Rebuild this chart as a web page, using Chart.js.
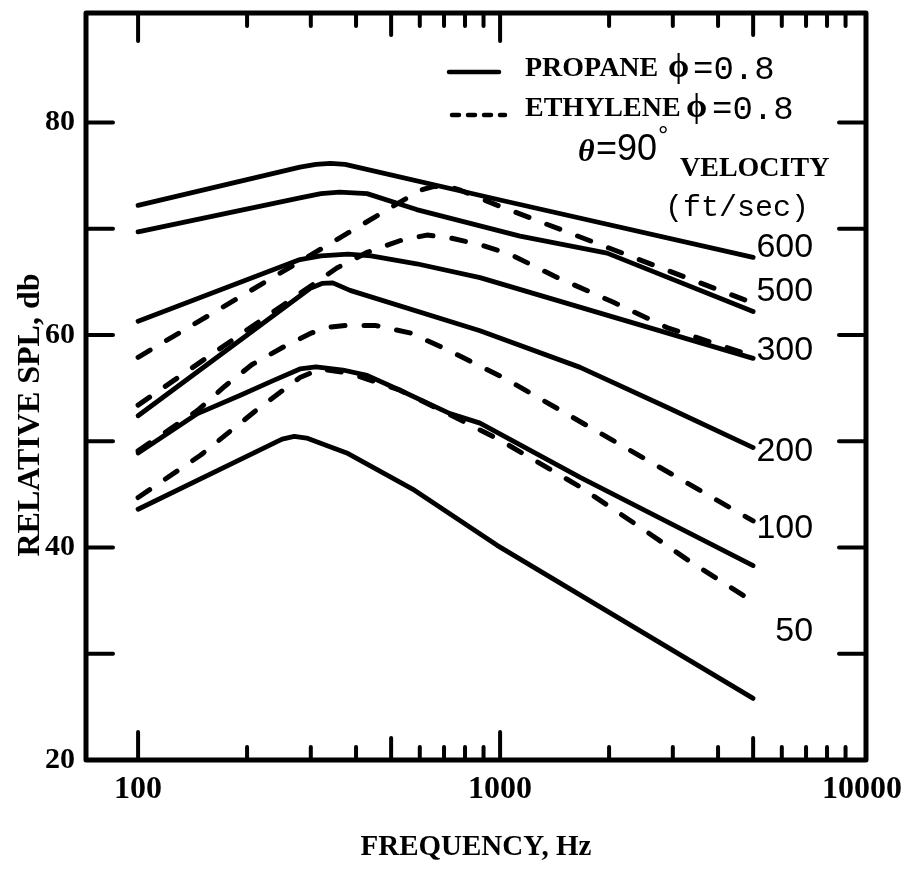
<!DOCTYPE html>
<html>
<head>
<meta charset="utf-8">
<title>Relative SPL vs frequency</title>
<script src="https://cdn.jsdelivr.net/npm/chart.js@4.4.1/dist/chart.umd.min.js"></script>
<style>
  html, body { margin: 0; padding: 0; background: #fff; }
  canvas { display: block; }
</style>
</head>
<body>
<canvas id="chart" width="922" height="871"></canvas>
<script>
/* ── Data: [frequency Hz, relative SPL dB] ───────────────────────────────── */

var xTickLabels = [100, 1000, 10000];
var yTickLabels = [20, 40, 60, 80];

// propane, phi = 0.8 (solid)
var propane600 = [[100, 72.2], [280, 75.8], [310, 76.05], [340, 76.15], [373, 76.05], [1000, 72.7], [5000, 67.3]];
var propane500 = [[100, 69.7], [280, 72.9], [320, 73.3], [360, 73.45], [429, 73.3], [588, 71.8], [1135, 69.3], [1975, 67.7], [5000, 62.2]];
var propane300 = [[100, 61.3], [280, 67.1], [320, 67.45], [380, 67.6], [440, 67.45], [588, 66.7], [880, 65.4], [5000, 57.8]];
var propane200 = [[100, 52.4], [299, 64.4], [322, 64.85], [345, 64.9], [385, 64.2], [880, 60.4], [1664, 56.95], [2890, 53.2], [5000, 49.4]];
var propane100 = [[100, 48.9], [146, 52.6], [191, 54.3], [236, 55.7], [280, 56.8], [310, 57.0], [368, 56.7], [429, 56.2], [529, 54.8], [727, 52.6], [880, 51.7], [1664, 46.6], [5000, 38.3]];
var propane50  = [[100, 43.6], [250, 50.2], [270, 50.45], [292, 50.3], [377, 48.9], [573, 45.5], [981, 40.2], [5000, 25.8]];

// ethylene, phi = 0.8 (dashed)
var ethylene500 = [[100, 57.9], [600, 73.6], [650, 73.95], [720, 74.0], [780, 73.6], [1000, 72.1], [5000, 63.0]];
var ethylene300 = [[100, 53.4], [354, 66.3], [431, 67.8], [532, 68.9], [628, 69.4], [736, 69.1], [880, 68.5], [1065, 67.6], [1440, 65.4], [2050, 63.1], [2890, 60.7], [5000, 58.0]];
var ethylene100 = [[100, 49.1], [146, 52.9], [174, 55.2], [206, 57.2], [253, 58.9], [302, 60.2], [340, 60.75], [373, 60.9], [451, 60.9], [563, 60.2], [705, 58.7], [1032, 55.9], [5000, 42.5]];
var ethylene50  = [[100, 44.7], [149, 48.7], [210, 52.8], [280, 56.0], [318, 56.8], [385, 56.4], [529, 54.8], [727, 52.5], [1000, 50.1], [1664, 45.7], [2390, 42.1], [3340, 38.7], [5000, 34.9]];

// velocity labels at the right-hand ends (ft/sec) and the dB level they sit at
var velocityLabels  = ['600', '500', '300', '200', '100', '50'];
var velocityLabelDb = [68.2, 64.1, 58.5, 49.05, 41.8, 32.1];

/* ── Helpers ────────────────────────────────────────────────────────────── */

var SERIF = "'Liberation Serif', 'DejaVu Serif', serif";
var MONO  = "'Liberation Mono', 'DejaVu Sans Mono', monospace";
var SANS  = "'Liberation Sans', 'DejaVu Sans', sans-serif";

function toPoints(rows) {
  return rows.map(function (r) { return { x: r[0], y: r[1] }; });
}

function solid(label, rows) {
  return {
    label: label, data: toPoints(rows),
    borderColor: '#000', borderWidth: 4.8,
    borderCapStyle: 'round', borderJoinStyle: 'round',
    pointRadius: 0, tension: 0
  };
}

function dashed(label, rows) {
  var ds = solid(label, rows);
  ds.borderWidth = 5;
  ds.borderDash = [14, 19];
  return ds;
}

function seg(ctx, x1, y1, x2, y2) {
  ctx.beginPath(); ctx.moveTo(x1, y1); ctx.lineTo(x2, y2); ctx.stroke();
}

function txt(ctx, s, x, y, font, align) {
  ctx.font = font;
  ctx.textAlign = align || 'left';
  ctx.textBaseline = 'middle';
  ctx.fillText(s, x, y);
}

/* ── Frame, inward ticks and notes ──────────────────────────────────────── */

var frameAndNotes = {
  id: 'frameAndNotes',
  afterDraw: function (chart) {
    var ctx = chart.ctx, a = chart.chartArea;
    var xs = chart.scales.x, ys = chart.scales.y;
    ctx.save();
    ctx.strokeStyle = '#000';
    ctx.fillStyle = '#000';

    // log ticks top and bottom, pointing inward
    ctx.lineWidth = 4;
    ctx.lineCap = 'round';
    for (var d = 100; d <= 1000; d *= 10) {
      for (var m = 1; m <= 9; m++) {
        var px = xs.getPixelForValue(m * d);
        var len = m === 1 ? 28 : (m === 5 ? 22 : 13);
        seg(ctx, px, a.bottom, px, a.bottom - len);
        seg(ctx, px, a.top, px, a.top + len);
      }
    }
    // dB ticks left and right
    for (var v = 30; v <= 80; v += 10) {
      var py = ys.getPixelForValue(v);
      seg(ctx, a.left, py, a.left + 27, py);
      seg(ctx, a.right, py, a.right - 27, py);
    }

    // frame
    ctx.lineWidth = 5;
    ctx.lineJoin = 'round';
    ctx.strokeRect(a.left, a.top, a.right - a.left, a.bottom - a.top);

    // legend samples
    ctx.lineCap = 'round';
    ctx.lineWidth = 4.5;
    seg(ctx, 449, 72, 499, 72);
    ctx.setLineDash([7, 9]);
    seg(ctx, 452, 115, 505, 115);
    ctx.setLineDash([]);

    txt(ctx, 'PROPANE',  525, 69,  'bold 28px ' + SERIF);
    txt(ctx, '\u03D5',   668, 68,  'bold 34px ' + SERIF);
    txt(ctx, '=0.8',     693, 70,  '34px ' + MONO);
    txt(ctx, 'ETHYLENE', 525, 109, 'bold 28px ' + SERIF);
    txt(ctx, '\u03D5',   686, 108, 'bold 34px ' + SERIF);
    txt(ctx, '=0.8',     712, 110, '34px ' + MONO);

    txt(ctx, '\u03B8',   578, 153, 'bold italic 32px ' + SERIF);
    txt(ctx, '=90',      596, 150, '36px ' + SANS);
    txt(ctx, '\u00B0',   658, 137, '26px ' + SANS);
    txt(ctx, 'VELOCITY', 680, 169, 'bold 28px ' + SERIF);
    txt(ctx, '(ft/sec)', 665, 208, '30px ' + MONO);

    // velocity labels at the curve ends
    var lx = xs.getPixelForValue(5000) + 60;
    velocityLabels.forEach(function (s, i) {
      txt(ctx, s, lx, ys.getPixelForValue(velocityLabelDb[i]), '34px ' + SANS, 'right');
    });

    // y axis title
    ctx.translate(31, 415);
    ctx.rotate(-Math.PI / 2);
    txt(ctx, 'RELATIVE SPL, db', 0, 0, 'bold 32px ' + SERIF, 'center');

    ctx.restore();
  }
};

/* ── Chart ──────────────────────────────────────────────────────────────── */

Chart.defaults.color = '#000';
Chart.defaults.font.family = SERIF;

new Chart(document.getElementById('chart'), {
  type: 'line',
  data: {
    datasets: [
      solid('Propane 600', propane600),
      solid('Propane 500', propane500),
      solid('Propane 300', propane300),
      solid('Propane 200', propane200),
      solid('Propane 100', propane100),
      solid('Propane 50',  propane50),
      dashed('Ethylene 500', ethylene500),
      dashed('Ethylene 300', ethylene300),
      dashed('Ethylene 100', ethylene100),
      dashed('Ethylene 50',  ethylene50)
    ]
  },
  options: {
    responsive: false,
    devicePixelRatio: 1,
    animation: false,
    layout: { padding: { left: 0, right: 56, top: 13, bottom: 0 } },
    plugins: {
      legend: { display: false },
      tooltip: { enabled: false }
    },
    scales: {
      x: {
        type: 'logarithmic',
        min: 71.8,
        max: 10250,
        grid: { display: false, drawTicks: false },
        border: { display: false },
        ticks: {
          autoSkip: false, maxRotation: 0, padding: 11,
          font: { size: 32, weight: 'bold' },
          callback: function (v) { return String(v); }
        },
        afterBuildTicks: function (s) {
          s.ticks = xTickLabels.map(function (v) { return { value: v }; });
        },
        afterFit: function (s) {
          s.height = 111;
          s.paddingLeft = 0;
          s.paddingRight = 0;
        },
        title: {
          display: true,
          text: 'FREQUENCY, Hz',
          font: { size: 29, weight: 'bold' },
          padding: { top: 0, bottom: 6 }
        }
      },
      y: {
        type: 'linear',
        min: 20,
        max: 90.3,
        grid: { display: false, drawTicks: false },
        border: { display: false },
        ticks: {
          autoSkip: false, padding: 11,
          font: { size: 30, weight: 'bold', lineHeight: 0.8 }
        },
        afterBuildTicks: function (s) {
          s.ticks = yTickLabels.map(function (v) { return { value: v }; });
        },
        afterFit: function (s) {
          s.width = 86;
          s.paddingTop = 0;
          s.paddingBottom = 0;
        }
      }
    }
  },
  plugins: [frameAndNotes]
});
</script>
</body>
</html>
